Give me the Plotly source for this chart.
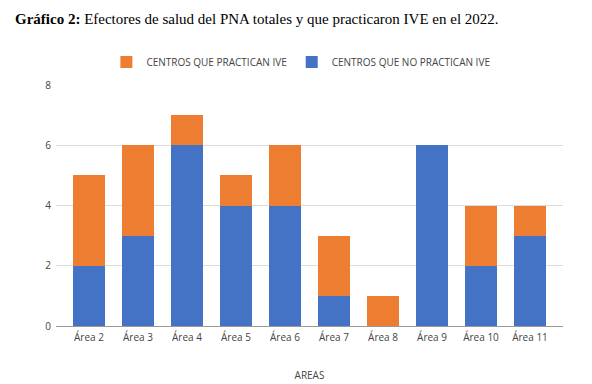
import plotly.graph_objects as go

areas = ["Área 2", "Área 3", "Área 4", "Área 5", "Área 6", "Área 7", "Área 8", "Área 9", "Área 10", "Área 11"]
no_practican = [2, 3, 6, 4, 4, 1, 0, 6, 2, 3]
practican = [3, 3, 1, 1, 2, 2, 1, 0, 2, 1]

BLUE = "#4472C4"
ORANGE = "#ED7D31"
SANS = "Open Sans, Noto Sans, sans-serif"
TICKFONT = dict(family=SANS, size=10, color="#444444")

fig = go.Figure()
fig.add_trace(go.Bar(x=areas, y=no_practican, name="CENTROS QUE NO PRACTICAN IVE",
                     marker=dict(color=BLUE, line=dict(width=0)), width=0.65, legendrank=2))
fig.add_trace(go.Bar(x=areas, y=practican, name="CENTROS QUE PRACTICAN IVE",
                     marker=dict(color=ORANGE, line=dict(width=0)), width=0.65, legendrank=1))

fig.update_layout(
    barmode="stack",
    width=584, height=376,
    margin=dict(l=48, r=29, t=77, b=58),
    paper_bgcolor="white", plot_bgcolor="white",
    title=dict(
        text="<b>Gráfico 2:</b> Efectores de salud del PNA totales y que practicaron IVE en el 2022.",
        x=0.012, xanchor="left", y=0.971, yanchor="middle",
        font=dict(family="Liberation Serif, Times New Roman, serif", size=15, color="#000000"),
    ),
    legend=dict(orientation="h", traceorder="normal", x=0.483, xanchor="center", y=1.095, yanchor="middle",
                font=dict(family=SANS, size=10, color="#444444"),
                itemsizing="constant", itemwidth=30),
    xaxis=dict(range=[-0.673, 9.673], tickfont=TICKFONT, showgrid=False, automargin=False,
               showline=True, linecolor="#999999", linewidth=1, ticks="", ticklabelstandoff=2,
               title=dict(text="AREAS", font=dict(family=SANS, size=10, color="#444444"), standoff=28)),
    yaxis=dict(range=[0, 8], dtick=2, tickfont=TICKFONT, showgrid=True, gridcolor="#dcdcdc",
               zeroline=False, ticks="", ticklabelstandoff=4),
)

fig.write_html("out.html")
